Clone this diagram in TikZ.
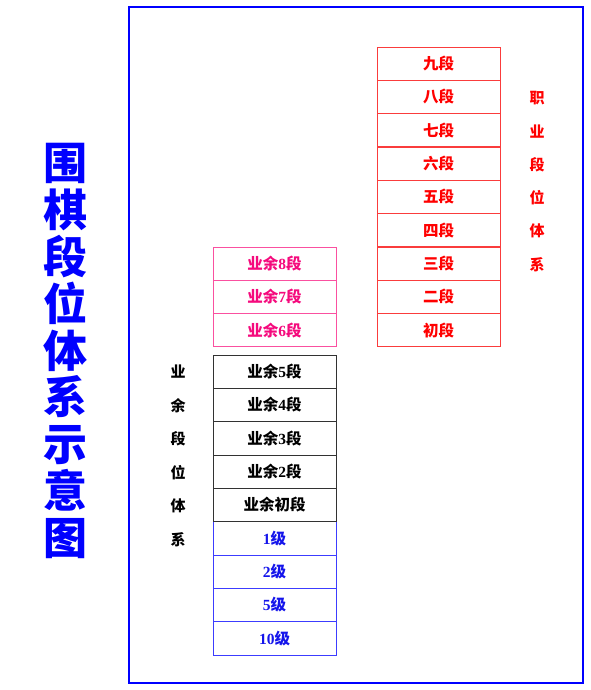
\documentclass[tikz,border=0pt]{standalone}
\usepackage{fontspec}
\setmainfont{Liberation Serif}
\newfontfamily\cjk{Noto Sans CJK SC}
\newcommand\zh[1]{{\cjk\bfseries #1}}
\definecolor{framec}{RGB}{0,0,255}
\definecolor{redc}{RGB}{255,0,0}
\definecolor{redb}{RGB}{250,60,60}
\definecolor{pinkc}{RGB}{245,10,125}
\definecolor{pinkb}{RGB}{250,80,160}
\definecolor{blackb}{RGB}{50,50,50}
\definecolor{bluec}{RGB}{20,20,235}
\definecolor{blueb}{RGB}{60,60,255}
\tikzset{
  cell/.style={draw, line width=1pt, minimum width=123pt, minimum height=33.33pt, inner sep=0pt, font=\fontsize{15.5}{17}\selectfont\bfseries},
  redcell/.style={cell, draw=redb, text=redc},
  pinkcell/.style={cell, draw=pinkb, text=pinkc},
  blackcell/.style={cell, draw=blackb, text=black},
  bluecell/.style={cell, draw=blueb, text=bluec},
  lab/.style={inner sep=0pt, font=\fontsize{15}{17}\selectfont},
}
\begin{document}
\begin{tikzpicture}[x=1pt,y=-1pt]
\useasboundingbox (0,0) rectangle (590,690);
\fill[white] (0,0) rectangle (590,690);
\draw[framec, line width=2pt] (129,7) rectangle (583,683);
% title
\node[text=framec, align=center, inner sep=0pt, font=\fontsize{44}{46.9}\selectfont] (title) at (65,351) {\zh{围}\\\zh{棋}\\\zh{段}\\\zh{位}\\\zh{体}\\\zh{系}\\\zh{示}\\\zh{意}\\\zh{图}};
% professional column
\node[redcell] (r9) at (438.5,63.67) {\zh{九段}};
\node[redcell] (r8) at (438.5,97.00) {\zh{八段}};
\node[redcell] (r7) at (438.5,130.33) {\zh{七段}};
\node[redcell] (r6) at (438.5,163.67) {\zh{六段}};
\node[redcell] (r5) at (438.5,197.00) {\zh{五段}};
\node[redcell] (r4) at (438.5,230.33) {\zh{四段}};
\node[redcell] (r3) at (438.5,263.67) {\zh{三段}};
\node[redcell] (r2) at (438.5,297.00) {\zh{二段}};
\node[redcell] (r1) at (438.5,330.33) {\zh{初段}};
% professional label
\node[lab, text=redc] (p1) at (537,98) {\zh{职}};
\node[lab, text=redc] (p2) at (537,131.3) {\zh{业}};
\node[lab, text=redc] (p3) at (537,164.7) {\zh{段}};
\node[lab, text=redc] (p4) at (537,198) {\zh{位}};
\node[lab, text=redc] (p5) at (537,231.3) {\zh{体}};
\node[lab, text=redc] (p6) at (537,264.7) {\zh{系}};
% amateur high dan (pink)
\node[pinkcell] (a8) at (274.5,263.67) {\zh{业余}8\zh{段}};
\node[pinkcell] (a7) at (274.5,297.00) {\zh{业余}7\zh{段}};
\node[pinkcell] (a6) at (274.5,330.33) {\zh{业余}6\zh{段}};
% kyu (blue)
\node[bluecell] (k1) at (274.5,538.33) {1\zh{级}};
\node[bluecell] (k2) at (274.5,571.67) {2\zh{级}};
\node[bluecell] (k5) at (274.5,605.00) {5\zh{级}};
\node[bluecell] (k10) at (274.5,638.33) {10\zh{级}};
% amateur dan (black)
\node[blackcell] (a5) at (274.5,371.67) {\zh{业余}5\zh{段}};
\node[blackcell] (a4) at (274.5,405.00) {\zh{业余}4\zh{段}};
\node[blackcell] (a3) at (274.5,438.33) {\zh{业余}3\zh{段}};
\node[blackcell] (a2) at (274.5,471.67) {\zh{业余}2\zh{段}};
\node[blackcell] (a1) at (274.5,505.00) {\zh{业余初段}};
% amateur label
\node[lab] (m1) at (178,372) {\zh{业}};
\node[lab] (m2) at (178,405.5) {\zh{余}};
\node[lab] (m3) at (178,439) {\zh{段}};
\node[lab] (m4) at (178,472.5) {\zh{位}};
\node[lab] (m5) at (178,506) {\zh{体}};
\node[lab] (m6) at (178,539.5) {\zh{系}};
\end{tikzpicture}
\end{document}
